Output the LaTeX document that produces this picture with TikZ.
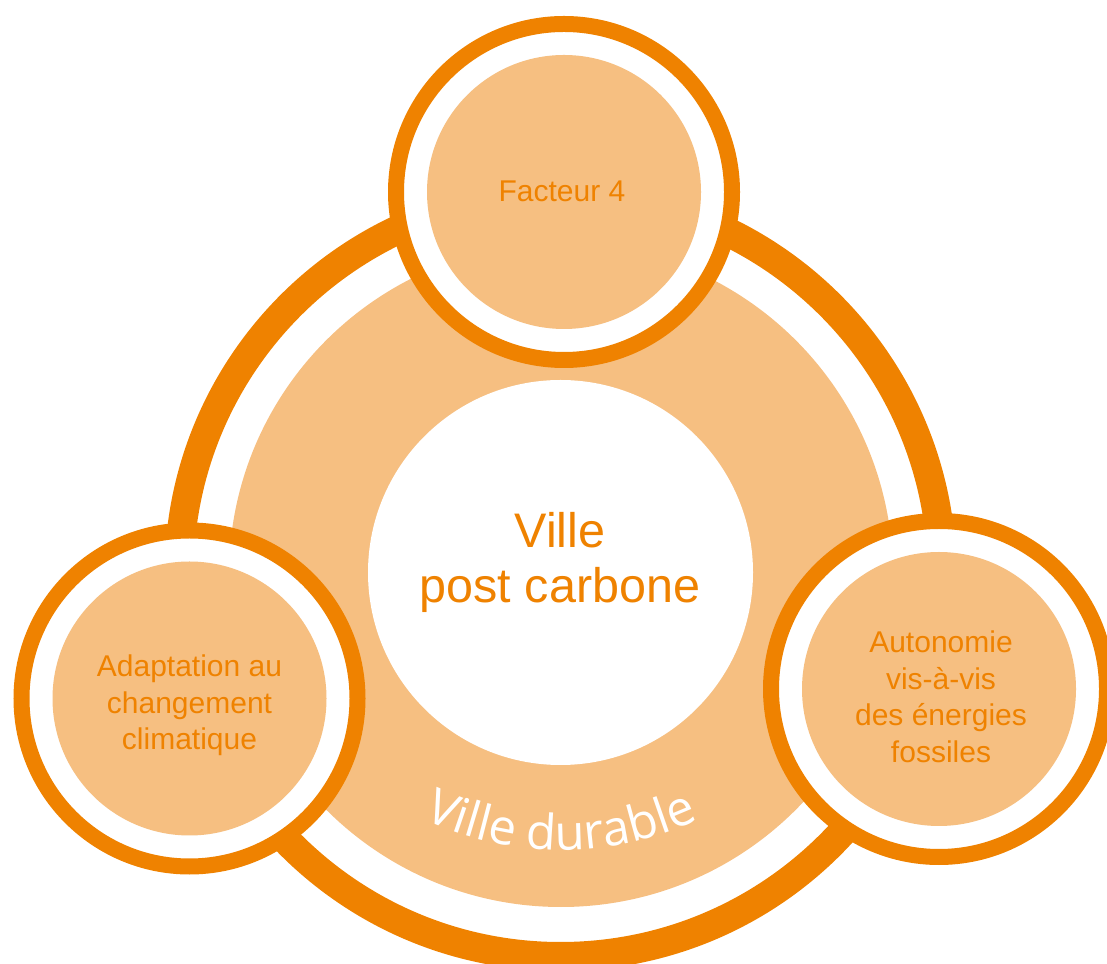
\documentclass[tikz,border=0pt]{standalone}
\usepackage{fontspec}
\setmainfont{Liberation Sans}
\newfontfamily\opensans{Open Sans}
\usetikzlibrary{decorations.text}
\definecolor{vorange}{HTML}{EF8200}
\definecolor{vlight}{HTML}{F6BF81}
\begin{document}
\begin{tikzpicture}[x=1pt,y=1pt,
  ring/.style={circle, draw=vorange, fill=white, line width=16pt, minimum size=336pt, inner sep=0pt},
  disk/.style={circle, fill=vlight, minimum size=274pt, inner sep=0pt},
  lbl/.style={text=vorange, align=center, font=\fontsize{30}{36.5}\selectfont, inner sep=0pt}]
\useasboundingbox (0,0) rectangle (1107,963);
\clip (0,0) rectangle (1107,963);
\node[circle, draw=vorange, line width=29pt, minimum size=763pt, inner sep=0pt] (outer) at (560.5,388) {};
\node[circle, fill=vlight, minimum size=664pt, inner sep=0pt] (durable) at (561,388) {};
\node[circle, fill=white, minimum size=385pt, inner sep=0pt] (core) at (560.5,390.5) {};
\node[text=vorange, align=center, font=\fontsize{48.5}{55}\selectfont, inner sep=0pt] (coretext) at (560,401) {Ville\\post carbone};
\path[decorate, decoration={text along path, text align=center, text={|\opensans\fontsize{49}{49}\selectfont\color{white}|Ville durable}}] (561,436) ++(215:323) arc[start angle=215, end angle=325, radius=323];
\node[ring] (topring) at (564,771) {};
\node[disk] (topdisk) at (564,771) {};
\node[lbl] (toptext) at (562,772) {Facteur 4};
\node[ring] (leftring) at (189.5,264.5) {};
\node[disk] (leftdisk) at (189.5,264.5) {};
\node[lbl] (lefttext) at (189.5,257.5) {Adaptation au\\changement\\climatique};
\node[ring] (rightring) at (939,274) {};
\node[disk] (rightdisk) at (939,274) {};
\node[lbl] (righttext) at (941,266) {Autonomie\\vis-à-vis\\des énergies\\fossiles};
\end{tikzpicture}
\end{document}
